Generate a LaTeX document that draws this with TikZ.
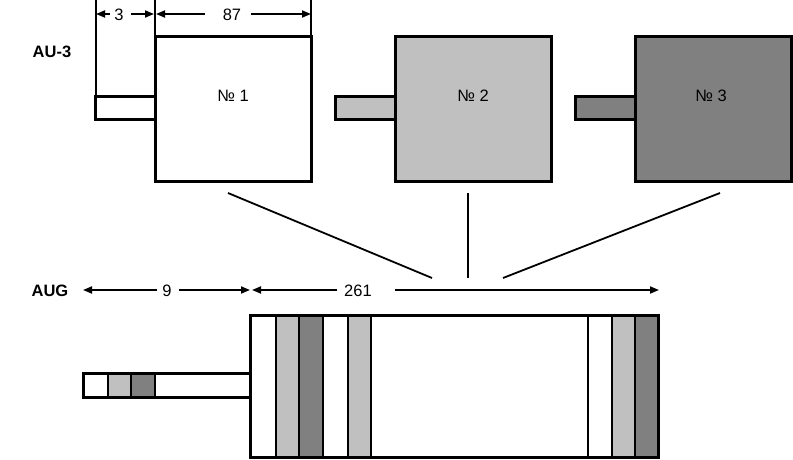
\documentclass[tikz,border=0pt]{standalone}
\usepackage{fontspec}
\setmainfont{Liberation Sans}
\usetikzlibrary{arrows.meta}
\definecolor{lgray}{HTML}{C0C0C0}
\definecolor{dgray}{HTML}{808080}
\begin{document}
\begin{tikzpicture}[x=1pt,y=-1pt,
  font=\fontsize{16.5}{19}\selectfont,
  txt/.style={inner sep=0pt},
  frame/.style={draw=black,line width=3pt,outer sep=0pt},
  stripe/.style={draw=black,line width=2pt},
  dimline/.style={line width=1.8pt,-{Triangle[length=9pt,width=7pt]}},
  extline/.style={line width=1.6pt},
  link/.style={line width=1.8pt},
  box/.style={frame,anchor=north west,inner sep=0pt,minimum width=156pt,minimum height=144pt},
  stub/.style={frame,anchor=north west,inner sep=0pt,minimum width=60pt,minimum height=22pt}]
\useasboundingbox (0,0) rectangle (793,460);

% ---- AU-3 frames ----
\node[txt,font=\fontsize{16.5}{19}\selectfont\bfseries] (lau3) at (52,51.5) {AU-3};

\node[stub,fill=white] (s1) at (95,97) {};
\node[box,fill=white] (b1) at (155,37) {};
\node[txt] (t1) at (233,95.5) {№ 1};

\node[stub,fill=lgray] (s2) at (335,97) {};
\node[box,fill=lgray] (b2) at (395,37) {};
\node[txt] (t2) at (473,95.5) {№ 2};

\node[stub,fill=dgray] (s3) at (575,97) {};
\node[box,fill=dgray] (b3) at (635,37) {};
\node[txt] (t3) at (711,95.5) {№ 3};

% dimension lines above the first frame
\draw[extline] (96,0) -- (96,97);
\draw[extline] (155,0) -- (155,37);
\draw[extline] (311,0) -- (311,37);
\node[txt] (d3) at (119,15) {3};
\node[txt] (d87) at (232,15) {87};
\coordinate (d3l) at (96,14);
\coordinate (d3r) at (154,14);
\coordinate (d87l) at (156,14);
\coordinate (d87r) at (311,14);
\draw[dimline] (110,14) -- (d3l);
\draw[dimline] (131,14) -- (d3r);
\draw[dimline] (205,14) -- (d87l);
\draw[dimline] (251,14) -- (d87r);

% ---- links down to the AUG ----
\coordinate (k1a) at (228,193); \coordinate (k1b) at (432,278);
\coordinate (k2a) at (468,193); \coordinate (k2b) at (468,278);
\coordinate (k3a) at (720,193); \coordinate (k3b) at (503,278);
\draw[link] (k1a) -- (k1b);
\draw[link] (k2a) -- (k2b);
\draw[link] (k3a) -- (k3b);

% ---- AUG ----
\node[txt,font=\fontsize{16.5}{19}\selectfont\bfseries] (laug) at (50,291) {AUG};
\node[txt] (d9) at (167,291) {9};
\node[txt] (d261) at (358,291) {261};
\coordinate (d9l) at (83,290);
\coordinate (d9r) at (250,290);
\coordinate (d261l) at (252,290);
\coordinate (d261r) at (659,290);
\draw[dimline] (157,290) -- (d9l);
\draw[dimline] (179,290) -- (d9r);
\draw[dimline] (337,290) -- (d261l);
\draw[dimline] (395,290) -- (d261r);

% AUG pointer area
\draw[stripe,fill=white] (83,373) rectangle (108,397);
\draw[stripe,fill=lgray] (108,373) rectangle (131,397);
\draw[stripe,fill=dgray] (131,373) rectangle (155,397);
\node[frame,anchor=north west,inner sep=0pt,minimum width=167pt,minimum height=24pt] (augp) at (83,373) {};

% AUG payload columns
\draw[stripe,fill=white] (250,315) rectangle (276,457);
\draw[stripe,fill=lgray] (276,315) rectangle (299,457);
\draw[stripe,fill=dgray] (299,315) rectangle (323,457);
\draw[stripe,fill=white] (323,315) rectangle (348,457);
\draw[stripe,fill=lgray] (348,315) rectangle (371,457);
\draw[stripe,fill=white] (371,315) rectangle (588,457);
\draw[stripe,fill=white] (588,315) rectangle (612,457);
\draw[stripe,fill=lgray] (612,315) rectangle (635,457);
\draw[stripe,fill=dgray] (635,315) rectangle (658,457);
\node[frame,anchor=north west,inner sep=0pt,minimum width=408pt,minimum height=142pt] (augb) at (250,315) {};
\end{tikzpicture}
\end{document}
